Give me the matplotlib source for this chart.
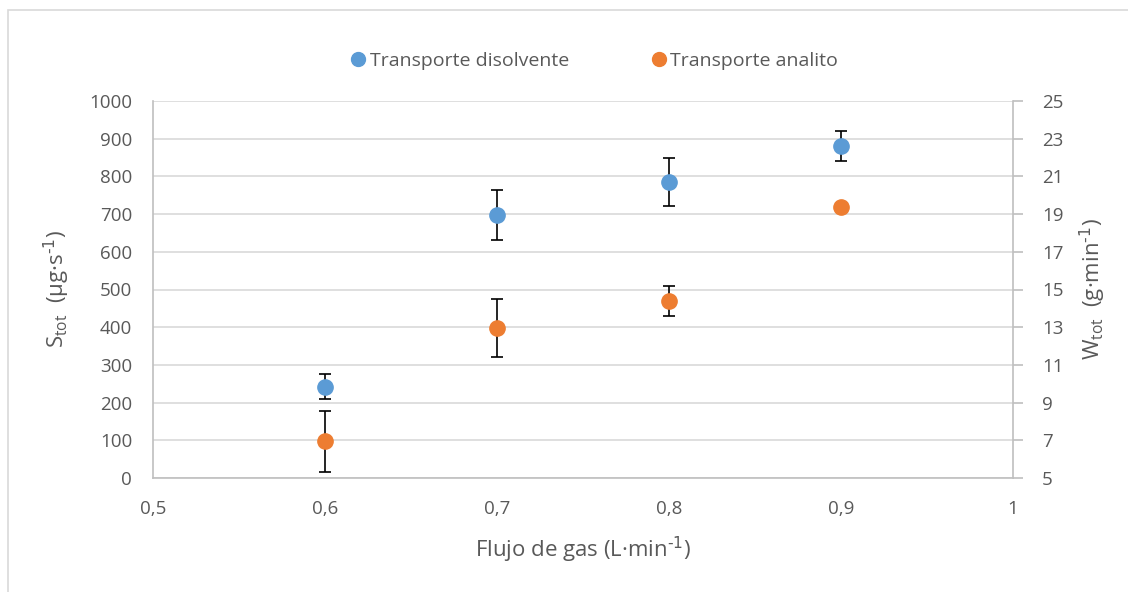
import matplotlib
matplotlib.use('Agg')
from matplotlib import pyplot as plt
from matplotlib.patches import Rectangle
from matplotlib.lines import Line2D

plt.rcParams['font.family'] = ['Open Sans', 'DejaVu Sans']

flujo = [0.6, 0.7, 0.8, 0.9]
# analito, S_tot (ug/s), eje izquierdo
s_tot = [98, 399, 470, 718]
s_err = [81, 77, 39, 4]
# disolvente, W_tot (g/min), eje derecho
w_tot = [9.84, 18.94, 20.72, 22.62]
w_err = [0.66, 1.32, 1.28, 0.78]

txt = '#595959'
blue = '#5b9bd5'
orange = '#ed7d31'

fig = plt.figure(figsize=(11.28, 5.92), dpi=100)
fig.patches.append(Rectangle((8/1128, -0.1), 1.2, 1 - 10/592 + 0.1, transform=fig.transFigure,
                             fill=False, edgecolor='#d9d9d9', lw=1.2))

ax = fig.add_axes([153/1128, 1 - 478/592, (1013 - 153)/1128, (478 - 101)/592])
ax2 = ax.twinx()

ax.set_xlim(0.5, 1.0)
ax.set_ylim(0, 1000)
ax2.set_ylim(5, 25)
ax.set_xticks([0.5, 0.6, 0.7, 0.8, 0.9, 1.0])
ax.set_xticklabels(['0,5', '0,6', '0,7', '0,8', '0,9', '1'])
ax.set_yticks(range(0, 1001, 100))
ax2.set_yticks(range(5, 26, 2))

ax.grid(axis='y', color='#d9d9d9', lw=1.2)
ax.set_axisbelow(True)
for a in (ax, ax2):
    for s in a.spines.values():
        s.set_visible(False)
    a.tick_params(colors=txt, labelsize=13.5)
ax.spines['left'].set_visible(True)
ax.spines['bottom'].set_visible(True)
ax2.spines['right'].set_visible(True)
for s in (ax.spines['left'], ax.spines['bottom'], ax2.spines['right']):
    s.set_color('#bfbfbf')
    s.set_linewidth(1.2)
ax.tick_params(axis='y', length=0, pad=15)
ax.tick_params(axis='x', length=0, pad=16)
ax2.tick_params(axis='y', length=7, color='#bfbfbf', width=1.2, pad=14)

ax.errorbar(flujo, s_tot, yerr=s_err, fmt='o', color=orange, ms=11, ecolor='black',
            elinewidth=1.2, capsize=4.5, capthick=1.2, zorder=3)
ax2.errorbar(flujo, w_tot, yerr=w_err, fmt='o', color=blue, ms=11, ecolor='black',
             elinewidth=1.2, capsize=4.5, capthick=1.2, zorder=3)

ax.set_xlabel('Flujo de gas (L·min$^{\\text{-1}}$)', color=txt, fontsize=16, labelpad=12)
ax.set_ylabel('S$_{\\mathregular{tot}}$  (µg·s$^{\\text{-1}}$)', color=txt, fontsize=16, labelpad=12)
ax2.set_ylabel('W$_{\\mathregular{tot}}$  (g·min$^{\\text{-1}}$)', color=txt, fontsize=16, labelpad=10)

handles = [Line2D([], [], marker='o', ls='', color=blue, ms=10),
           Line2D([], [], marker='o', ls='', color=orange, ms=10)]
fig.legend(handles, ['Transporte disolvente', 'Transporte analito'], loc='center',
           bbox_to_anchor=(0.527, 1 - 61/592), ncol=2, frameon=False, fontsize=14,
           labelcolor=txt, handlelength=0.8, handletextpad=0.2, columnspacing=4.2)

fig.savefig('out.png', dpi=100)
